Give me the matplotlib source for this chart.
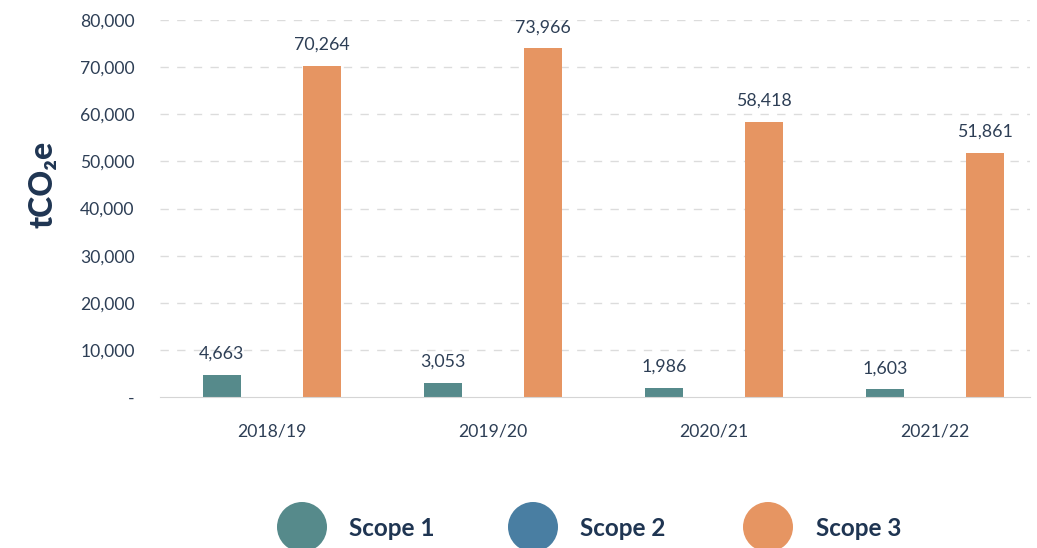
import matplotlib
matplotlib.use("Agg")
import matplotlib.pyplot as plt
from matplotlib.patches import Ellipse
import numpy as np

# ── Data ────────────────────────────────────────────────────
years   = ["2018/19", "2019/20", "2020/21", "2021/22"]
scope1  = [4663, 3053, 1986, 1603]
scope2  = [0, 0, 0, 0]
scope3  = [70264, 73966, 58418, 51861]
yticks  = [0, 10000, 20000, 30000, 40000, 50000, 60000, 70000, 80000]
series  = ["Scope 1", "Scope 2", "Scope 3"]

# ── Style ───────────────────────────────────────────────────
plt.rcParams['font.family'] = ['Lato', 'DejaVu Sans']
C1, C2, C3 = "#568a8b", "#497ea2", "#e69562"
NAVY = "#1f3552"
TXT  = "#2d3e55"

W, H = 1037, 548
fig = plt.figure(figsize=(W / 100, H / 100), dpi=100)
ax = fig.add_axes([0.154, 0.2755, 0.839, 0.688])

x = np.arange(len(years))
w, off = 0.172, 0.226
b1 = ax.bar(x - off, scope1, w, color=C1)
b2 = ax.bar(x, scope2, w, color=C2)
b3 = ax.bar(x + off, scope3, w, color=C3)

for bars, vals in [(b1, scope1), (b3, scope3)]:
    for r, v in zip(bars, vals):
        ax.text(r.get_x() + r.get_width() / 2, v + 2800, f"{v:,}",
                ha="center", va="bottom", fontsize=12.8, color=TXT)

ax.set_ylim(0, 80000)
ax.set_xlim(-0.507, 3.43)
ax.set_yticks(yticks)
ax.set_yticklabels(["-"] + [f"{t:,}" for t in yticks[1:]])
ax.set_xticks(x)
ax.set_xticklabels(years)
ax.tick_params(axis="y", length=0, pad=18, labelsize=12.6, labelcolor=TXT)
ax.tick_params(axis="x", length=0, pad=19, labelsize=12.7, labelcolor=TXT)

for t in yticks[1:]:
    ax.axhline(t, color="#dcdcdc", lw=1, ls=(0, (6, 6)), zorder=0)
for s in ["top", "right", "left"]:
    ax.spines[s].set_visible(False)
ax.spines["bottom"].set_color("#d5d5d5")

ax.set_ylabel("tCO₂e", fontsize=23, fontweight="black", color=NAVY)
ax.yaxis.set_label_coords(-0.117, 0.565)

# ── Legend (pixel-space overlay) ────────────────────────────
lg = fig.add_axes([0, 0, 1, 1], zorder=-1)
lg.set_xlim(0, W)
lg.set_ylim(H, 0)
lg.axis("off")
for name, c, cx, tx in zip(series, (C1, C2, C3), (302, 533, 768), (349, 580, 816)):
    lg.add_patch(Ellipse((cx, 527), 50, 50, color=c, lw=0))
    lg.text(tx, 528, name, ha="left", va="center", fontsize=17.5,
            fontweight="bold", color=NAVY)

fig.savefig("out.png", dpi=100)
